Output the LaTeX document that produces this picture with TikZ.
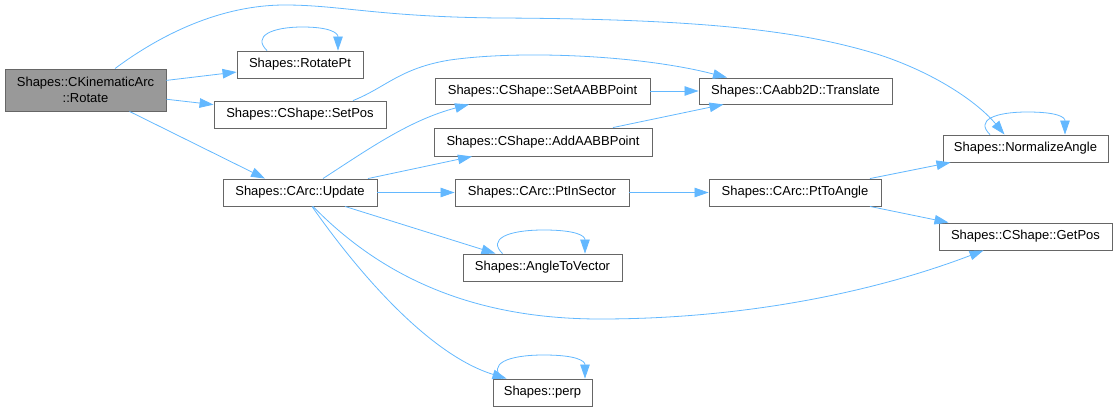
\documentclass[tikz,border=0pt]{standalone}
\usepackage{fontspec}
\setmainfont{Liberation Sans}
\usetikzlibrary{arrows.meta,calc}
\definecolor{edgec}{HTML}{63B8FF}
\definecolor{boxc}{HTML}{666666}
\definecolor{curc}{HTML}{999999}
\begin{document}
\begin{tikzpicture}[x=1pt,y=-1pt,
  box/.style={draw=boxc, line width=0.9pt, fill=white, inner sep=0pt,
    font=\fontsize{13}{16}\selectfont, align=center},
  edge/.style={draw=edgec, line width=0.8pt, -{Triangle[length=14pt,width=9.5pt]}}]
\useasboundingbox (0,0) rectangle (1117,412);

% nodes
\node[box,fill=curc,minimum width=161pt,minimum height=42pt] (rot) at (85.5,90) {Shapes::CKinematicArc\\::Rotate};
\node[box,minimum width=126pt,minimum height=27pt] (rpt) at (300,64.5) {Shapes::RotatePt};
\node[box,minimum width=172pt,minimum height=27pt] (setpos) at (300,114.5) {Shapes::CShape::SetPos};
\node[box,minimum width=154pt,minimum height=27pt] (upd) at (300,192.5) {Shapes::CArc::Update};
\node[box,minimum width=215pt,minimum height=26pt] (setaabb) at (542.5,91) {Shapes::CShape::SetAABBPoint};
\node[box,minimum width=218pt,minimum height=28pt] (addaabb) at (543,142) {Shapes::CShape::AddAABBPoint};
\node[box,minimum width=174pt,minimum height=27pt] (ptin) at (542,192.5) {Shapes::CArc::PtInSector};
\node[box,minimum width=193pt,minimum height=26pt] (transl) at (795.5,91) {Shapes::CAabb2D::Translate};
\node[box,minimum width=165pt,minimum height=27pt] (norm) at (1025.5,148.5) {Shapes::NormalizeAngle};
\node[box,minimum width=172pt,minimum height=27pt] (pta) at (795,192.5) {Shapes::CArc::PtToAngle};
\node[box,minimum width=173pt,minimum height=27pt] (getpos) at (1025.5,236.5) {Shapes::CShape::GetPos};
\node[box,minimum width=159pt,minimum height=27pt] (a2v) at (542.5,267.5) {Shapes::AngleToVector};
\node[box,minimum width=99pt,minimum height=27pt] (perp) at (542.5,392.5) {Shapes::perp};

% edges
\draw[edge] (rot) -- (rpt);
\draw[edge] (rot) -- (setpos);
\draw[edge] ([xshift=44]rot.south) -- ([xshift=-35]upd.north);
\draw[edge] ([xshift=29.5]rot.north) .. controls (160,35) and (220,5) .. (285,5)
  .. controls (340,5) and (380,17) .. (500,18)
  .. controls (700,19) and (800,30) .. (880,55)
  .. controls (940,75) and (980,105) .. ([xshift=-21]norm.north);
\draw[edge] ([xshift=53]setpos.north) .. controls (385,88) and (400,68) .. (450,60)
  .. controls (520,50) and (640,55) .. ([xshift=-68.5]transl.north);
\draw[edge] (setaabb) -- (transl);
\draw[edge] ([xshift=70]addaabb.north) -- ([xshift=-72]transl.south);
\draw[edge] ([xshift=23]upd.north) .. controls (370,148) and (410,120) .. ([xshift=-73.5]setaabb.south);
\draw[edge] ([xshift=68]upd.north) -- ([xshift=-71]addaabb.south);
\draw[edge] (upd) -- (ptin);
\draw[edge] ([xshift=45]upd.south) -- ([xshift=-47]a2v.north);
\draw[edge] ([xshift=12]upd.south) .. controls (360,275) and (430,355) .. ([xshift=-36]perp.north);
\draw[edge] ([xshift=13]upd.south) .. controls (380,275) and (470,319) .. (600,319)
  .. controls (750,319) and (880,290) .. ([xshift=-42]getpos.south);
\draw[edge] (ptin) -- (pta);
\draw[edge] ([xshift=75]pta.north) -- ([xshift=-75]norm.south);
\draw[edge] ([xshift=75]pta.south) -- ([xshift=-77]getpos.north);

% self loops
\draw[edge] ([xshift=-33]rpt.north) .. controls (252,36) and (272,27) .. (302.5,27)
  .. controls (330,27) and (338,33) .. ([xshift=38]rpt.north);
\draw[edge] ([xshift=-40]a2v.north) .. controls (487.5,239) and (507.5,230) .. (543.75,230)
  .. controls (577,230) and (585,236) .. ([xshift=42.5]a2v.north);
\draw[edge] ([xshift=-40]perp.north) .. controls (487.5,364) and (507.5,355) .. (543.75,355)
  .. controls (577,355) and (585,361) .. ([xshift=42.5]perp.north);
\draw[edge] ([xshift=-35.5]norm.north) .. controls (975,120) and (995,112) .. (1027.5,112)
  .. controls (1057,112) and (1065,117) .. ([xshift=39.5]norm.north);
\end{tikzpicture}
\end{document}
